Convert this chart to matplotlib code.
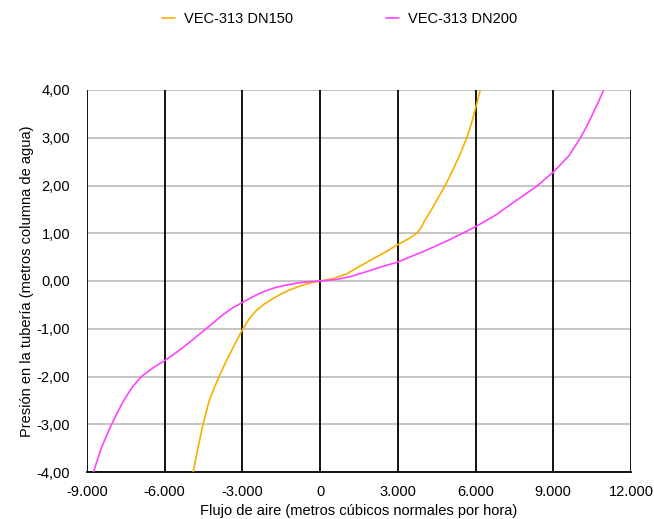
import matplotlib
matplotlib.use("Agg")
import matplotlib.pyplot as plt
from matplotlib.ticker import FuncFormatter

plt.rcParams['font.family'] = ['Liberation Sans', 'DejaVu Sans']

# Data
dn150_x = [-4900, -4720, -4520, -4280, -4060, -3880, -3630, -3300, -3010, -2750, -2470, -2150, -1830, -1500, -1190, -850, -540, -250, 0,
           500, 1030, 1500, 2000, 2500, 2960, 3400, 3730, 3900, 4050, 4250, 4500, 4830, 5100, 5400, 5660, 5850, 6000, 6180]
dn150_y = [-4.0, -3.5, -3.0, -2.5, -2.2, -1.98, -1.68, -1.33, -1.03, -0.80, -0.62, -0.48, -0.37, -0.27, -0.19, -0.12, -0.064, -0.025, 0.0,
           0.05, 0.15, 0.30, 0.45, 0.60, 0.75, 0.88, 1.00, 1.12, 1.28, 1.45, 1.69, 2.00, 2.30, 2.65, 3.00, 3.32, 3.62, 4.0]

dn200_x = [-8750, -8450, -8110, -7850, -7590, -7250, -6880, -6400, -5980, -5430, -4900, -4400, -3760, -3400, -3010, -2600, -2220, -1750, -1310, -900, -540, 0,
           600, 1160, 1750, 2320, 2960, 4000, 5020, 5980, 6800, 7500, 8300, 9000, 9600, 10040, 10300, 10550, 10750, 10940]
dn200_y = [-4.0, -3.5, -3.07, -2.78, -2.51, -2.22, -1.99, -1.80, -1.66, -1.45, -1.22, -1.0, -0.71, -0.57, -0.45, -0.33, -0.23, -0.14, -0.085, -0.045, -0.02, 0.0,
           0.03, 0.09, 0.19, 0.29, 0.39, 0.62, 0.87, 1.13, 1.39, 1.66, 1.96, 2.28, 2.62, 2.99, 3.25, 3.53, 3.76, 4.0]

series_names = ["VEC-313 DN150", "VEC-313 DN200"]
x_ticks = [-9000, -6000, -3000, 0, 3000, 6000, 9000, 12000]
y_ticks = [-4, -3, -2, -1, 0, 1, 2, 3, 4]

fig = plt.figure(figsize=(6.54, 5.19), dpi=100)
ax = fig.add_axes([87/654, 47/519, 544/654, 382/519])

for yt in y_ticks:
    ax.axhline(yt, color='#c0c0c0', lw=1.3, zorder=1)
for xt in x_ticks:
    ax.axvline(xt, color='black', lw=1.3, zorder=1.5)

ax.plot(dn150_x, dn150_y, color='#F7B000', lw=1.2, label=series_names[0], zorder=3,
        solid_joinstyle='round', solid_capstyle='round')
ax.plot(dn200_x, dn200_y, color='#FF44FF', lw=1.2, label=series_names[1], zorder=3,
        solid_joinstyle='round', solid_capstyle='round')

ax.set_xlim(-9000, 12000)
ax.set_ylim(-4, 4)
ax.set_xticks(x_ticks)
ax.set_yticks(y_ticks)
ax.xaxis.set_major_formatter(FuncFormatter(lambda v, p: f"{int(v):,}".replace(",", ".")))
ax.yaxis.set_major_formatter(FuncFormatter(lambda v, p: f"{v:.2f}".replace(".", ",")))
for s in ax.spines.values():
    s.set_visible(False)
ax.spines['bottom'].set_visible(True)
ax.spines['bottom'].set_color('black')
ax.spines['bottom'].set_linewidth(1.3)
ax.tick_params(length=0, labelsize=10.5)
ax.tick_params(axis='x', pad=9)
ax.tick_params(axis='y', pad=12)
ax.set_xlabel("Flujo de aire (metros cúbicos normales por hora)", fontsize=10.5)
ax.set_ylabel("Presión en la tubería (metros columna de agua)", fontsize=10.5)
ax.xaxis.set_label_coords(0.5, -(510 - 471) / 382, transform=ax.transAxes)
ax.xaxis.label.set_va('center')
ax.yaxis.set_label_coords(-(87 - 27) / 544, 0.5, transform=ax.transAxes)
ax.yaxis.label.set_va('center')

fig.legend(loc='center', bbox_to_anchor=(339.5/654, 1 - 19/519), ncol=2, frameon=False,
           fontsize=10.5, handlelength=0.9, columnspacing=6.4, handletextpad=0.6)

fig.savefig("out.png", dpi=100)
